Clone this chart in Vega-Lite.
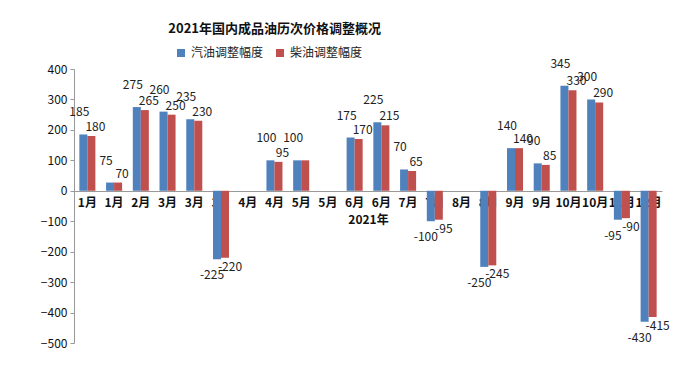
{
  "$schema": "https://vega.github.io/schema/vega-lite/v6.json",
  "width": 588,
  "height": 274,
  "autosize": "none",
  "padding": {"left": 74, "top": 69, "right": 38, "bottom": 38},
  "background": "white",
  "config": {"font": "Noto Sans CJK SC", "view": {"stroke": null}},
  "title": {"text": "2021年国内成品油历次价格调整概况", "anchor": "start", "dx": 128, "fontSize": 13, "fontWeight": "bold", "color": "#111", "offset": 11},
  "data": {"values": [
    {"idx": 1, "series": "汽油调整幅度", "value": 185, "label": "185"},
    {"idx": 1, "series": "柴油调整幅度", "value": 180, "label": "180"},
    {"idx": 2, "series": "汽油调整幅度", "value": 27, "label": "75"},
    {"idx": 2, "series": "柴油调整幅度", "value": 27, "label": "70"},
    {"idx": 3, "series": "汽油调整幅度", "value": 275, "label": "275"},
    {"idx": 3, "series": "柴油调整幅度", "value": 265, "label": "265"},
    {"idx": 4, "series": "汽油调整幅度", "value": 260, "label": "260"},
    {"idx": 4, "series": "柴油调整幅度", "value": 250, "label": "250"},
    {"idx": 5, "series": "汽油调整幅度", "value": 235, "label": "235"},
    {"idx": 5, "series": "柴油调整幅度", "value": 230, "label": "230"},
    {"idx": 6, "series": "汽油调整幅度", "value": -225, "label": "-225"},
    {"idx": 6, "series": "柴油调整幅度", "value": -220, "label": "-220"},
    {"idx": 8, "series": "汽油调整幅度", "value": 100, "label": "100"},
    {"idx": 8, "series": "柴油调整幅度", "value": 95, "label": "95"},
    {"idx": 9, "series": "汽油调整幅度", "value": 100, "label": "100"},
    {"idx": 9, "series": "柴油调整幅度", "value": 100, "label": ""},
    {"idx": 11, "series": "汽油调整幅度", "value": 175, "label": "175"},
    {"idx": 11, "series": "柴油调整幅度", "value": 170, "label": "170"},
    {"idx": 12, "series": "汽油调整幅度", "value": 225, "label": "225"},
    {"idx": 12, "series": "柴油调整幅度", "value": 215, "label": "215"},
    {"idx": 13, "series": "汽油调整幅度", "value": 70, "label": "70"},
    {"idx": 13, "series": "柴油调整幅度", "value": 65, "label": "65"},
    {"idx": 14, "series": "汽油调整幅度", "value": -100, "label": "-100"},
    {"idx": 14, "series": "柴油调整幅度", "value": -95, "label": "-95"},
    {"idx": 16, "series": "汽油调整幅度", "value": -250, "label": "-250"},
    {"idx": 16, "series": "柴油调整幅度", "value": -245, "label": "-245"},
    {"idx": 17, "series": "汽油调整幅度", "value": 140, "label": "140"},
    {"idx": 17, "series": "柴油调整幅度", "value": 140, "label": "140"},
    {"idx": 18, "series": "汽油调整幅度", "value": 90, "label": "90"},
    {"idx": 18, "series": "柴油调整幅度", "value": 85, "label": "85"},
    {"idx": 19, "series": "汽油调整幅度", "value": 345, "label": "345"},
    {"idx": 19, "series": "柴油调整幅度", "value": 330, "label": "330"},
    {"idx": 20, "series": "汽油调整幅度", "value": 300, "label": "300"},
    {"idx": 20, "series": "柴油调整幅度", "value": 290, "label": "290"},
    {"idx": 21, "series": "汽油调整幅度", "value": -95, "label": "-95"},
    {"idx": 21, "series": "柴油调整幅度", "value": -90, "label": "-90"},
    {"idx": 22, "series": "汽油调整幅度", "value": -430, "label": "-430"},
    {"idx": 22, "series": "柴油调整幅度", "value": -415, "label": "-415"}
  ]},
  "encoding": {
    "x": {
      "field": "idx", "type": "ordinal",
      "scale": {"domain": [1,2,3,4,5,6,7,8,9,10,11,12,13,14,15,16,17,18,19,20,21,22], "paddingInner": 0.4, "paddingOuter": 0.2},
      "axis": {
        "title": "2021年", "titleFontSize": 12, "titleFontWeight": "bold", "titleColor": "#111", "titlePadding": 6,
        "labelExpr": "['1月','1月','2月','3月','3月','3月','4月','4月','5月','5月','6月','6月','7月','7月','8月','8月','9月','9月','10月','10月','11月','12月'][datum.value-1]",
        "labelAngle": 0, "labelFontSize": 12, "labelFontWeight": "bold", "labelColor": "#111", "labelPadding": 6,
        "ticks": false, "domainColor": "#999", "offset": -152, "zindex": 0
      }
    },
    "xOffset": {"field": "series", "type": "nominal", "scale": {"domain": ["汽油调整幅度", "柴油调整幅度"], "paddingInner": 0, "paddingOuter": 0}},
    "y": {
      "field": "value", "type": "quantitative",
      "scale": {"domain": [-500, 400], "nice": false},
      "axis": {"title": null, "values": [-500,-400,-300,-200,-100,0,100,200,300,400], "grid": false, "domainColor": "#999", "tickColor": "#999", "tickSize": 4, "labelFontSize": 12, "labelColor": "#111", "labelPadding": 3}
    }
  },
  "layer": [
    {
      "mark": {"type": "bar"},
      "encoding": {
        "color": {"field": "series", "type": "nominal", "scale": {"domain": ["汽油调整幅度", "柴油调整幅度"], "range": ["#4F81BD", "#C0504D"]},
          "legend": {"orient": "none", "legendX": 101, "legendY": -22, "direction": "horizontal", "title": null, "symbolType": "square", "symbolSize": 64, "labelFontSize": 12, "labelColor": "#222", "columnPadding": 10, "labelOffset": 4}}
      }
    },
    {
      "transform": [{"filter": "datum.series == '汽油调整幅度' && datum.value >= 0"}],
      "mark": {"type": "text", "fontSize": 12, "color": "#222", "baseline": "middle", "dy": -22, "dx": -4},
      "encoding": {"text": {"field": "label"}}
    },
    {
      "transform": [{"filter": "datum.series == '柴油调整幅度' && datum.value >= 0"}],
      "mark": {"type": "text", "fontSize": 12, "color": "#222", "baseline": "middle", "dy": -9, "dx": 4},
      "encoding": {"text": {"field": "label"}}
    },
    {
      "transform": [{"filter": "datum.series == '汽油调整幅度' && datum.value < 0"}],
      "mark": {"type": "text", "fontSize": 12, "color": "#222", "baseline": "middle", "dy": 16, "dx": -5},
      "encoding": {"text": {"field": "label"}}
    },
    {
      "transform": [{"filter": "datum.series == '柴油调整幅度' && datum.value < 0"}],
      "mark": {"type": "text", "fontSize": 12, "color": "#222", "baseline": "middle", "dy": 9, "dx": 5},
      "encoding": {"text": {"field": "label"}}
    }
  ]
}
